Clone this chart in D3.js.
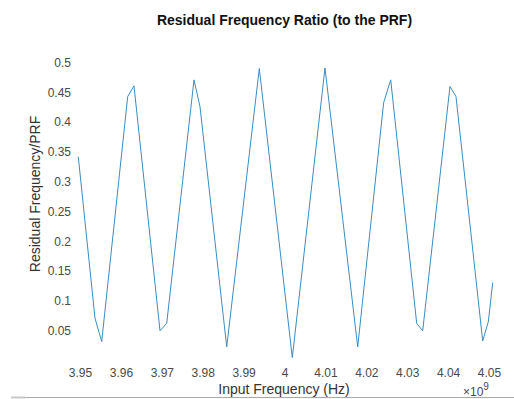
<!DOCTYPE html>
<html>
<head>
<meta charset="utf-8">
<script src="https://cdn.jsdelivr.net/npm/d3@7"></script>
<style>
  html, body { margin: 0; padding: 0; background: #fff; }
  svg { display: block; }
  text { font-family: "Liberation Sans", Arial, sans-serif; }
</style>
</head>
<body>
<svg id="chart" width="514" height="399"></svg>
<script>
// Input frequency, in units of 1e9 Hz
const inputFrequency = [
  3.94958, 3.95367, 3.95531, 3.96166, 3.96320, 3.96956, 3.97120, 3.97787,
  3.97934, 3.98587, 3.99384, 4.00191, 4.00990, 4.01790, 4.02425, 4.02597,
  4.03232, 4.03379, 4.04046, 4.04193, 4.04846, 4.04983, 4.05091
];
// Residual frequency divided by the PRF
const residualRatio = [
  0.341, 0.070, 0.031, 0.442, 0.460, 0.049, 0.0615, 0.470,
  0.425, 0.022, 0.489, 0.004, 0.490, 0.022, 0.432, 0.470,
  0.0615, 0.049, 0.459, 0.442, 0.032, 0.064, 0.130
];

const xTickValues = [3.95, 3.96, 3.97, 3.98, 3.99, 4.00, 4.01, 4.02, 4.03, 4.04, 4.05];
const xTickLabels = ["3.95", "3.96", "3.97", "3.98", "3.99", "4", "4.01", "4.02", "4.03", "4.04", "4.05"];
const yTickValues = [0.05, 0.1, 0.15, 0.2, 0.25, 0.3, 0.35, 0.4, 0.45, 0.5];
const yTickLabels = ["0.05", "0.1", "0.15", "0.2", "0.25", "0.3", "0.35", "0.4", "0.45", "0.5"];

const titleText = "Residual Frequency Ratio (to the PRF)";
const xLabelText = "Input Frequency (Hz)";
const yLabelText = "Residual Frequency/PRF";

const svg = d3.select("#chart");

const x = d3.scaleLinear().domain([3.95, 4.05]).range([80, 489]);
const y = d3.scaleLinear().domain([0, 0.5]).range([360, 62]);

const tickColor = "#4a4a4a";

// x axis: labels only, no domain line or tick marks
const xAxis = svg.append("g")
  .attr("transform", "translate(0,368)")
  .call(d3.axisBottom(x)
    .tickValues(xTickValues)
    .tickFormat((d, i) => xTickLabels[i])
    .tickSize(0)
    .tickPadding(0));
xAxis.select(".domain").remove();
xAxis.selectAll("text")
  .attr("fill", tickColor)
  .style("font-size", "12px")
  .style("font-family", "'Liberation Sans', Arial, sans-serif");

// y axis: labels only
const yAxis = svg.append("g")
  .attr("transform", "translate(71,0)")
  .call(d3.axisLeft(y)
    .tickValues(yTickValues)
    .tickFormat((d, i) => yTickLabels[i])
    .tickSize(0)
    .tickPadding(0));
yAxis.select(".domain").remove();
yAxis.selectAll("text")
  .attr("fill", tickColor)
  .attr("dy", "0.36em")
  .style("font-size", "12px")
  .style("font-family", "'Liberation Sans', Arial, sans-serif");

// data line
const line = d3.line()
  .x((d, i) => x(inputFrequency[i]))
  .y(d => y(d));

svg.append("path")
  .datum(residualRatio)
  .attr("fill", "none")
  .attr("stroke", "#3a8cc0")
  .attr("stroke-width", 1)
  .attr("stroke-linejoin", "miter")
  .attr("d", line);

// title
svg.append("text")
  .attr("x", 284.5)
  .attr("y", 25)
  .attr("text-anchor", "middle")
  .attr("font-weight", "bold")
  .attr("font-size", "14px")
  .attr("fill", "#111")
  .text(titleText);

// y label
svg.append("text")
  .attr("transform", "translate(40,194) rotate(-90)")
  .attr("text-anchor", "middle")
  .attr("font-size", "14px")
  .attr("fill", "#333")
  .text(yLabelText);

// x label
svg.append("text")
  .attr("x", 284)
  .attr("y", 394)
  .attr("text-anchor", "middle")
  .attr("font-size", "14px")
  .attr("fill", "#333")
  .text(xLabelText);

// exponent marker
const expo = svg.append("text")
  .attr("x", 463)
  .attr("y", 395.5)
  .attr("font-size", "12px")
  .attr("fill", tickColor);
expo.append("tspan").text("\u00d710");
expo.append("tspan")
  .attr("font-size", "10px")
  .attr("dy", "-6")
  .text("9");

// bottom edge of the figure
svg.append("line")
  .attr("x1", 11).attr("x2", 514)
  .attr("y1", 397.5).attr("y2", 397.5)
  .attr("stroke", "#aaa")
  .attr("stroke-width", 1);
svg.append("rect")
  .attr("x", 11).attr("y", 396.5)
  .attr("width", 14).attr("height", 2)
  .attr("fill", "#c8c8c8");
</script>
</body>
</html>
